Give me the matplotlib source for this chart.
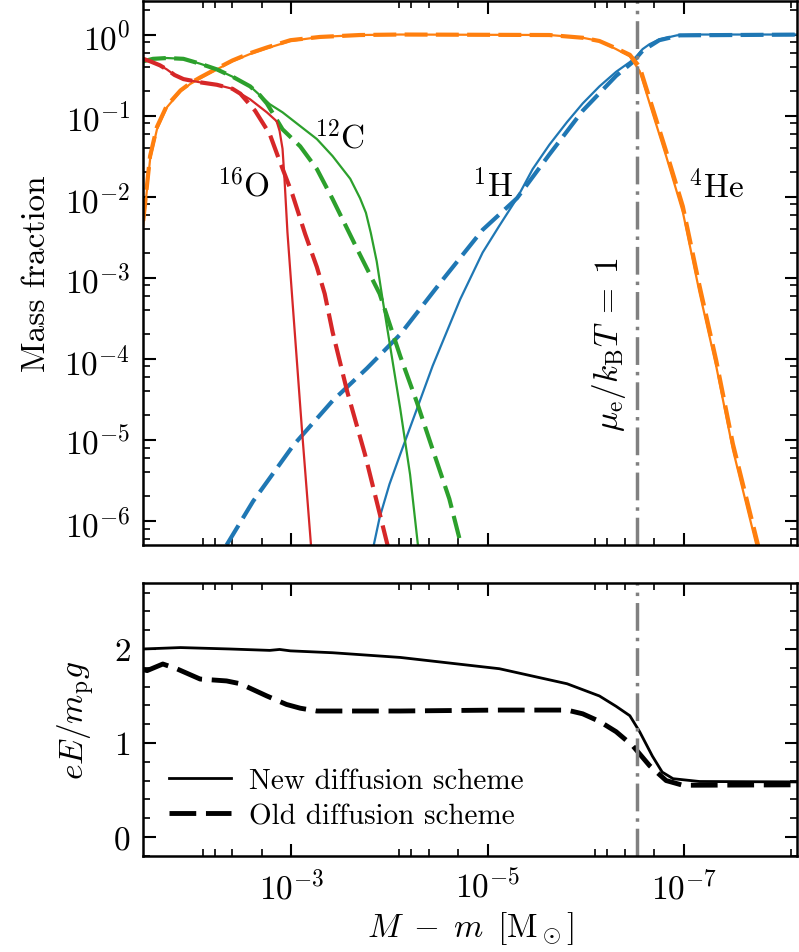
import matplotlib

matplotlib.use("Agg")

import matplotlib.pyplot as plt
import numpy as np
from matplotlib.ticker import FixedLocator, LogLocator, MultipleLocator, NullFormatter

plt.rcParams["font.family"] = "serif"
plt.rcParams["font.serif"] = ["cmr10"]
plt.rcParams["mathtext.fontset"] = "cm"
plt.rcParams["axes.unicode_minus"] = False
plt.rcParams["axes.formatter.use_mathtext"] = True

# log10(M - m) and log10(mass fraction)
he_new_lm = [-1.49, -1.56, -1.63, -1.73, -1.87, -1.97, -2.07, -2.24, -2.40, -2.58, -2.75, -2.99,
             -3.29, -3.70, -4.11, -5.63, -5.97, -6.14, -6.31, -6.45, -6.55, -6.68, -6.82, -6.99,
             -7.16, -7.33, -7.50, -7.74, -7.87]
he_new_lx = [-2.36, -1.54, -1.17, -0.90, -0.70, -0.61, -0.54, -0.43, -0.33, -0.24, -0.17, -0.08,
             -0.03, -0.006, 0.0, -0.006, -0.04, -0.08, -0.18, -0.27, -0.45, -0.96, -1.50, -2.19,
             -3.18, -4.09, -5.12, -6.30, -6.91]
he_old_lm = he_new_lm
he_old_lx = [-2.30, -1.50, -1.14, -0.88, -0.69, -0.60, -0.53, -0.42, -0.32, -0.23, -0.16, -0.07,
             -0.03, -0.006, 0.0, -0.006, -0.04, -0.08, -0.17, -0.25, -0.40, -0.90, -1.44, -2.12,
             -3.10, -4.02, -5.05, -6.22, -6.85]

h_new_lm = [-3.84, -3.90, -4.00, -4.11, -4.28, -4.44, -4.72, -4.95, -5.12, -5.30, -5.46, -5.63,
            -5.81, -5.97, -6.14, -6.31, -6.45, -6.52, -6.58, -6.65, -6.75, -6.93, -7.16, -8.30]
h_new_lx = [-6.30, -5.96, -5.55, -5.18, -4.62, -4.09, -3.27, -2.69, -2.36, -2.02, -1.66, -1.36,
            -1.08, -0.85, -0.64, -0.46, -0.34, -0.27, -0.18, -0.12, -0.06, -0.01, 0.0, 0.0]
h_old_lm = [-2.34, -2.61, -3.02, -3.42, -3.77, -4.11, -4.54, -4.95, -5.30, -5.63, -5.97, -6.31,
            -6.48, -6.58, -6.75, -6.96, -8.30]
h_old_lx = [-6.30, -5.76, -5.07, -4.52, -4.12, -3.70, -3.03, -2.41, -2.02, -1.48, -0.94, -0.51,
            -0.34, -0.20, -0.07, -0.01, 0.0]

o_new_lm = [-1.49, -1.56, -1.66, -1.73, -1.81, -1.90, -2.07, -2.24, -2.40, -2.58, -2.75, -2.85,
            -2.88, -2.91, -2.93, -2.96, -3.01, -3.11, -3.20, -3.24]
o_new_lx = [-0.30, -0.33, -0.38, -0.43, -0.50, -0.55, -0.59, -0.62, -0.67, -0.80, -0.96, -1.07,
            -1.19, -1.41, -1.78, -2.44, -3.27, -4.91, -6.30, -6.97]
o_old_lm = [-1.49, -1.56, -1.66, -1.73, -1.81, -1.90, -2.07, -2.24, -2.40, -2.48, -2.63, -2.78,
            -2.88, -3.01, -3.14, -3.26, -3.34, -3.42, -3.57, -3.75, -3.98, -4.05]
o_old_lx = [-0.30, -0.33, -0.38, -0.43, -0.50, -0.55, -0.59, -0.62, -0.67, -0.73, -0.94, -1.23,
            -1.56, -1.97, -2.46, -2.87, -3.20, -3.67, -4.41, -5.18, -6.30, -6.66]

c_new_lm = [-1.49, -1.59, -1.73, -1.90, -2.07, -2.24, -2.40, -2.58, -2.68, -2.78, -2.91, -3.09,
            -3.26, -3.42, -3.60, -3.70, -3.76, -3.81, -3.87, -3.93, -4.11, -4.21, -4.29, -4.33]
c_new_lx = [-0.33, -0.30, -0.29, -0.30, -0.36, -0.43, -0.52, -0.64, -0.75, -0.86, -0.96, -1.13,
            -1.29, -1.50, -1.78, -2.02, -2.20, -2.45, -2.80, -3.27, -4.62, -5.43, -6.30, -6.72]
c_old_lm = [-1.49, -1.59, -1.73, -1.90, -2.07, -2.24, -2.40, -2.58, -2.68, -2.75, -2.91, -3.09,
            -3.26, -3.42, -3.68, -3.90, -4.11, -4.28, -4.44, -4.61, -4.73, -4.78]
c_old_lx = [-0.33, -0.30, -0.29, -0.30, -0.36, -0.43, -0.52, -0.64, -0.75, -0.85, -1.17, -1.38,
            -1.66, -2.03, -2.67, -3.20, -3.97, -4.54, -5.12, -5.73, -6.30, -6.60]

efield_new_lm = [-1.49, -1.87, -2.37, -2.78, -2.88, -2.99, -3.42, -4.11, -5.12, -5.81, -6.14,
                 -6.31, -6.45, -6.55, -6.68, -6.78, -6.89, -7.16, -8.30]
efield_new = [2.00, 2.015, 2.00, 1.985, 1.995, 1.98, 1.96, 1.91, 1.79, 1.63, 1.50,
              1.39, 1.29, 1.12, 0.86, 0.69, 0.62, 0.59, 0.585]
efield_old_lm = [-1.49, -1.53, -1.69, -1.83, -2.07, -2.34, -2.48, -2.75, -2.95, -3.09, -3.26,
                 -4.11, -5.12, -5.81, -5.97, -6.14, -6.31, -6.48, -6.65, -6.82, -6.99, -8.30]
efield_old = [1.78, 1.77, 1.84, 1.79, 1.68, 1.66, 1.63, 1.50, 1.41, 1.37, 1.34,
              1.34, 1.35, 1.35, 1.31, 1.23, 1.12, 0.97, 0.76, 0.60, 0.55, 0.555]

degenerate_lm = -6.518

species = [
    ("#1f77b4", h_new_lm, h_new_lx, h_old_lm, h_old_lx),
    ("#ff7f0e", he_new_lm, he_new_lx, he_old_lm, he_old_lx),
    ("#2ca02c", c_new_lm, c_new_lx, c_old_lm, c_old_lx),
    ("#d62728", o_new_lm, o_new_lx, o_old_lm, o_old_lx),
]
labels = [
    (r"$^{16}\mathrm{O}$", -2.51, -1.85),
    (r"$^{12}\mathrm{C}$", -3.49, -1.25),
    (r"$^{1}\mathrm{H}$", -5.05, -1.85),
    (r"$^{4}\mathrm{He}$", -7.33, -1.87),
]

fs = 24
fig = plt.figure(figsize=(7.99, 9.53), dpi=100)
ax1 = fig.add_axes([0.179, 0.427, 0.819, 0.571])
ax2 = fig.add_axes([0.179, 0.101, 0.819, 0.286])

for color, nlm, nlx, olm, olx in species:
    ax1.plot(10.0 ** np.array(nlm), 10.0 ** np.array(nlx), color=color, lw=1.6)
    ax1.plot(10.0 ** np.array(olm), 10.0 ** np.array(olx), color=color, lw=3.0,
             ls="--", dashes=(5.5, 2.0))

for text, lm, lx in labels:
    ax1.text(10 ** lm, 10 ** lx, text, fontsize=fs, ha="center", va="center")

ax1.text(10 ** -6.43, 1.55e-4, r"$\mu_{\rm e}/k_{\rm B}T\;=\;1$", fontsize=fs,
         rotation=90, ha="right", va="center")

ax2.plot(10.0 ** np.array(efield_new_lm), efield_new, color="k", lw=2.0,
         label="New diffusion scheme")
ax2.plot(10.0 ** np.array(efield_old_lm), efield_old, color="k", lw=3.5, ls="--",
         dashes=(5.5, 2.0), label="Old diffusion scheme")

for ax in (ax1, ax2):
    ax.axvline(10 ** degenerate_lm, color="0.5", lw=2.5, dashes=(8, 2, 1, 2))
    ax.set_xscale("log")
    ax.set_xlim(10 ** -1.488, 10 ** -8.158)
    ax.xaxis.set_major_locator(FixedLocator([1e-3, 1e-5, 1e-7]))
    ax.xaxis.set_minor_locator(FixedLocator(
        [m * 10.0 ** k for k in (-3, -5, -7, -9) for m in (2, 4, 6, 8)]))
    ax.xaxis.set_minor_formatter(NullFormatter())
    ax.tick_params(which="both", direction="in", top=True, right=True, labelsize=fs, pad=9)
    ax.tick_params(which="major", length=9, width=1.5)
    ax.tick_params(which="minor", length=5, width=1.2)
    for sp in ax.spines.values():
        sp.set_linewidth(1.8)

ax1.set_yscale("log")
ax1.set_ylim(5.0e-7, 2.6)
ax1.yaxis.set_major_locator(LogLocator(base=10, numticks=20))
ax1.yaxis.set_minor_locator(FixedLocator(
    [m * 10.0 ** k for k in range(-7, 1) for m in (2, 4, 6, 8)]))
ax1.yaxis.set_minor_formatter(NullFormatter())
ax1.tick_params(axis="x", labelbottom=False)
ax1.set_ylabel("Mass fraction", fontsize=fs, labelpad=10)

ax2.set_ylim(-0.2, 2.7)
ax2.yaxis.set_major_locator(MultipleLocator(1))
ax2.yaxis.set_minor_locator(MultipleLocator(0.2))
ax2.set_ylabel(r"$eE/m_{\rm p}g$", fontsize=fs, labelpad=12)
ax2.set_xlabel(r"$M\;-\;m\ \,[\mathrm{M}_\odot]$", fontsize=fs)
ax2.legend(loc="lower left", frameon=False, fontsize=21, handlelength=2.1,
           handletextpad=0.65, labelspacing=0.3, borderaxespad=0.5)

fig.savefig("out.png", dpi=100)
